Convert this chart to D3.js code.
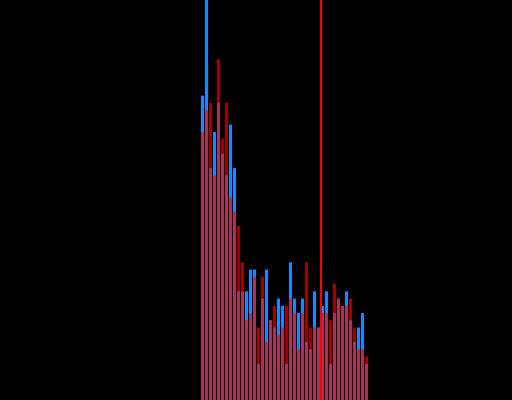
<!doctype html>
<html lang="en">
<head>
	<meta charset="utf-8">
	<title>Histogram overlap</title>
	<script type="text/javascript" src="https://d3js.org/d3.v7.min.js"></script>
	<style>
		html, body { margin: 0; padding: 0; background: #000; overflow: hidden; }
		svg { display: block; }
	</style>
</head>
<body>
	<script type="text/javascript">
		var width = 512;
		var height = 400;

		// bins 50..91, counts
		var bins = d3.range(50, 92);
		var blueCounts = [42, 60, 32, 37, 41, 34, 31, 38, 32, 15,
			15, 15, 18, 18, 5, 14, 18, 11, 10, 14,
			13, 5, 19, 14, 12, 14, 8, 7, 15, 10,
			13, 15, 5, 12, 14, 13, 15, 11, 8, 10,
			12, 5];
		var redCounts = [37, 40, 41, 31, 47, 36, 41, 28, 26, 24,
			19, 11, 12, 17, 10, 17, 8, 11, 13, 9,
			10, 13, 14, 12, 7, 12, 19, 10, 10, 10,
			12, 12, 11, 16, 14, 13, 13, 14, 10, 7,
			7, 6];
		var markerBin = 80;

		var svg = d3.select("body")
			.append("svg")
			.attr("width", width)
			.attr("height", height)
			.style("background", "#000");

		var x = d3.scaleLinear().domain([0, 128]).range([0, width]);
		var y = d3.scaleLinear().domain([0, 55.2]).range([height, 0]);

		//blue series first, the red one sits on top with some transparency
		svg.append("g")
			.selectAll("rect")
			.data(bins)
			.enter()
			.append("rect")
			.attr("x", function(d) { return x(d) + 1; })
			.attr("width", x(1) - 1)
			.attr("y", function(d, i) { return y(blueCounts[i]); })
			.attr("height", function(d, i) { return height - y(blueCounts[i]); })
			.style("fill", "rgb(20,140,255)");

		svg.append("g")
			.selectAll("rect")
			.data(bins)
			.enter()
			.append("rect")
			.attr("x", function(d) { return x(d) + 1; })
			.attr("width", x(1) - 1)
			.attr("y", function(d, i) { return y(redCounts[i]); })
			.attr("height", function(d, i) { return height - y(redCounts[i]); })
			.style("fill", "rgb(255,0,0)")
			.style("fill-opacity", 0.63);

		// marker line
		svg.append("line")
			.attr("x1", x(markerBin) + 1)
			.attr("x2", x(markerBin) + 1)
			.attr("y1", 0)
			.attr("y2", height)
			.style("stroke", "red")
			.style("stroke-width", 2);
	</script>
</body>
</html>
